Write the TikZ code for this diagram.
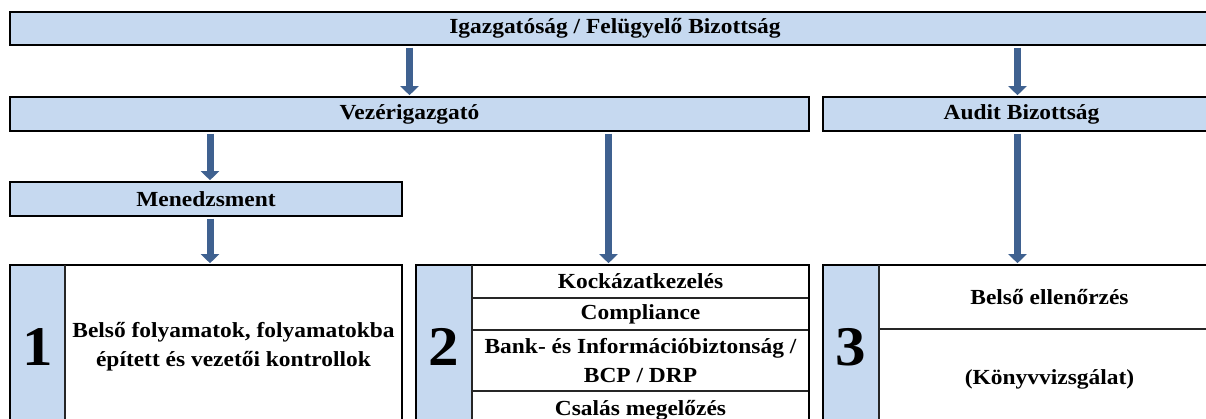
\documentclass[tikz,border=0pt]{standalone}
\usepackage{fontspec}
\setmainfont{Liberation Serif}[FakeStretch=1.09]
\usetikzlibrary{arrows.meta}
\definecolor{boxblue}{HTML}{C6D9F0}
\definecolor{arrowblue}{HTML}{3F6190}
\begin{document}
\begin{tikzpicture}[x=1pt,y=-1pt,
  lbl/.style={font=\bfseries\fontsize{21.5}{29}\selectfont, align=center},
  bar/.style={lbl, draw=black, line width=2.6pt, fill=boxblue, inner sep=0pt},
  strip/.style={fill=boxblue, inner sep=0pt, font=\bfseries\fontsize{56}{60}\selectfont},
  cell/.style={lbl, draw=black!85, line width=1.6pt, inner sep=0pt},
  outer/.style={draw=black, line width=2.6pt, inner sep=0pt},
  arr/.style={draw=arrowblue, line width=7pt, shorten <=1.3pt, shorten >=0.5pt,
              -{Triangle[width=18pt,length=9pt]}}
]
\useasboundingbox (0,0) rectangle (1206,419);
\clip (0,0) rectangle (1206,419);

% header bars
\node[bar, minimum width=1210pt, minimum height=33pt] (top) at (615,28.5) {Igazgatóság / Felügyelő Bizottság};
\node[bar, minimum width=799pt, minimum height=34pt] (vez) at (409.5,114) {Vezérigazgató};
\node[bar, minimum width=397pt, minimum height=34pt] (audit) at (1021.5,114) {Audit Bizottság};
\node[bar, minimum width=392pt, minimum height=34pt] (men) at (206,199) {Menedzsment};

% box 1
\node[strip, minimum width=55pt, minimum height=164pt] (s1) at (37.5,347) {1};
\node[lbl, inner sep=0pt, minimum width=337pt, minimum height=164pt] (t1) at (233.5,347)
  {Belső folyamatok, folyamatokba\\ épített és vezetői kontrollok};
\node[outer, minimum width=392pt, minimum height=164pt] (b1) at (206,347) {};
\draw[line width=1.6pt, black!85] (s1.north east) -- (s1.south east);

% box 2
\node[strip, minimum width=56pt, minimum height=164pt] (s2) at (444,347) {2};
\node[cell, minimum width=337pt, minimum height=33pt] (r21) at (640.5,281.5) {Kockázatkezelés};
\node[cell, minimum width=337pt, minimum height=32pt] (r22) at (640.5,314) {Compliance};
\node[cell, minimum width=337pt, minimum height=61pt] (r23) at (640.5,360.5) {Bank- és Információbiztonság /\\ BCP / DRP};
\node[cell, minimum width=337pt, minimum height=38pt] (r24) at (640.5,410) {Csalás megelőzés};
\node[outer, minimum width=393pt, minimum height=164pt] (b2) at (612.5,347) {};
\draw[line width=1.6pt, black!85] (s2.north east) -- (s2.south east);

% box 3
\node[strip, minimum width=56pt, minimum height=164pt] (s3) at (851,347) {3};
\node[cell, minimum width=341pt, minimum height=64pt] (r31) at (1049.5,297) {Belső ellenőrzés};
\node[cell, minimum width=341pt, minimum height=100pt] (r32) at (1049.5,379) {(Könyvvizsgálat)};
\node[outer, minimum width=397pt, minimum height=164pt] (b3) at (1021.5,347) {};
\draw[line width=1.6pt, black!85] (s3.north east) -- (s3.south east);

% arrows
\draw[arr] (vez.north |- top.south) -- (vez.north);
\draw[arr] ([xshift=-4pt]audit.north |- top.south) -- ([xshift=-4pt]audit.north);
\draw[arr] ([xshift=4pt]men.north |- vez.south) -- ([xshift=4pt]men.north);
\draw[arr] ([xshift=4pt]men.south) -- ([xshift=4pt]men.south |- b1.north);
\draw[arr] ([xshift=-4pt]b2.north |- vez.south) -- ([xshift=-4pt]b2.north);
\draw[arr] ([xshift=-4pt]audit.south) -- ([xshift=-4pt]audit.south |- b3.north);
\end{tikzpicture}
\end{document}
